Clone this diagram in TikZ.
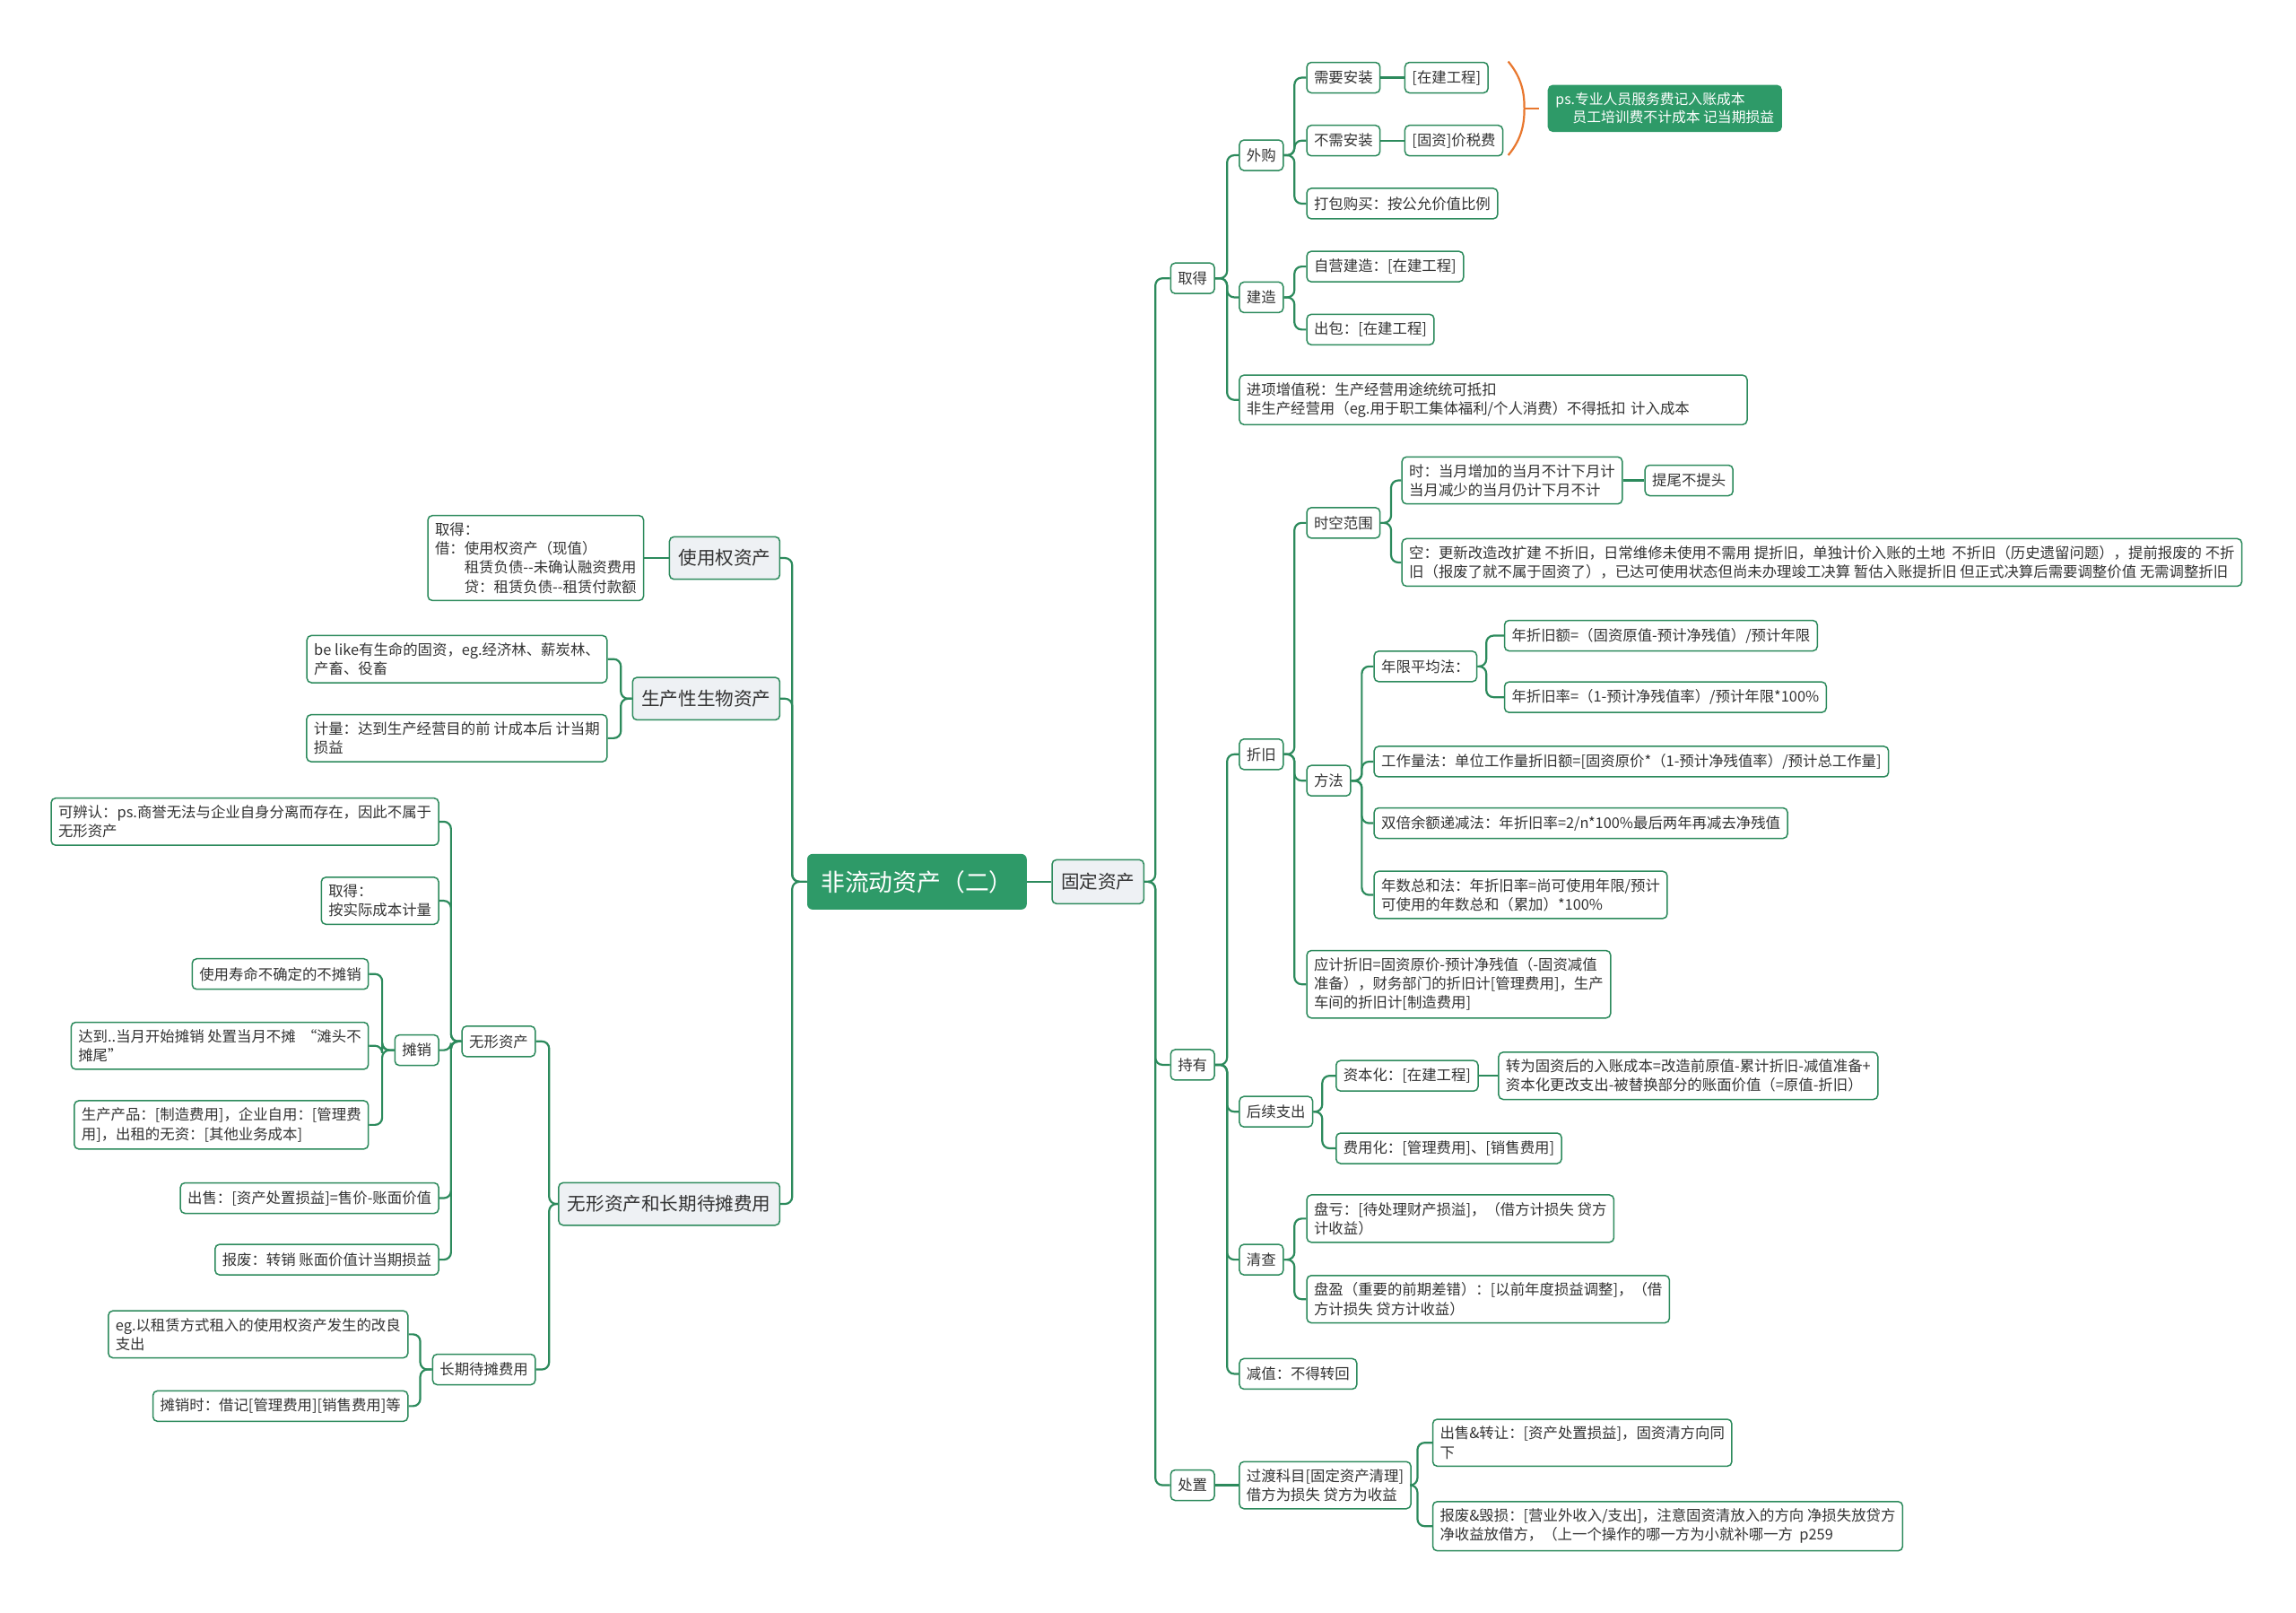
\documentclass[tikz,border=0pt]{standalone}
\usepackage{fontspec}
\setmainfont{Noto Sans CJK SC}
\definecolor{gline}{HTML}{2C8A5C}
\definecolor{rootfill}{HTML}{2E9A68}
\definecolor{lfill}{HTML}{EEF1F4}
\definecolor{txt}{HTML}{333333}
\definecolor{brk}{HTML}{E8772E}
\newcommand\conR[3]{\draw[conn] (#1.east) -- (#1.east -| #3) |- (#2.west);}
\newcommand\conL[3]{\draw[conn] (#1.west) -- (#1.west -| #3) |- (#2.east);}
\newcommand\conSR[2]{\draw[conn] (#1.east) -- (#1.east -| #2.west);}
\newcommand\conSL[2]{\draw[conn] (#1.west) -- (#1.west -| #2.east);}
\tikzset{
  nb/.style={draw=gline, line width=0.75pt, rounded corners=2.5pt, fill=white, text=txt,
    font=\fontsize{8.2}{10.6}\selectfont, inner xsep=4pt, inner ysep=4pt,
    minimum height=17pt, align=left},
  nbR/.style={nb, anchor=west},
  nbL/.style={nb, anchor=east},
  lvtwo/.style={nb, fill=lfill, font=\fontsize{10.3}{12}\selectfont, minimum height=23.7pt, inner xsep=5pt},
  conn/.style={draw=gline, line width=1.1pt, rounded corners=4pt},
}
\begin{document}
\begin{tikzpicture}[x=0.81633pt,y=-0.81633pt]
\useasboundingbox (0,0) rectangle (1568,1101);
\fill[white] (0,0) rectangle (1568,1101);

% spine coordinates
\coordinate (s0) at (789,0);
\coordinate (s1) at (838,0);
\coordinate (s2) at (884,0);
\coordinate (s3) at (950,0);
\coordinate (s4) at (930,0);
\coordinate (s5) at (1015,0);
\coordinate (s6) at (903,0);
\coordinate (s7) at (968,0);
\coordinate (t0) at (541,0);
\coordinate (t1) at (424,0);
\coordinate (t2) at (375,0);
\coordinate (t3) at (308,0);
\coordinate (t4) at (261,0);
\coordinate (t5) at (287,0);

% root and fixed assets
\node[draw=none, fill=rootfill, rounded corners=3pt, text=white, font=\fontsize{13.4}{16}\selectfont,
  minimum width=122.4pt, minimum height=31pt, anchor=west, inner sep=0pt] (root) at (551,602) {非流动资产（二）};
\node[lvtwo, anchor=west, minimum height=24.5pt] (gd) at (718,602) {固定资产};

% right side nodes
\node[nbR] (qd) at (799,190) {取得};
\node[nbR] (wg) at (846,106) {外购};
\node[nbR] (xyaz) at (892,53) {需要安装};
\node[nbR] (zjgc) at (959,53) {[在建工程]};
\node[nbR] (bxaz) at (892,96) {不需安装};
\node[nbR] (jsf) at (959,96) {[固资]价税费};
\node[nbR] (dbgm) at (892,139) {打包购买：按公允价值比例};
\node[nbR] (jz) at (846,203) {建造};
\node[nbR] (zyjz) at (892,182) {自营建造：[在建工程]};
\node[nbR] (cbao) at (892,225) {出包：[在建工程]};
\node[nbR, text width=275pt] (jxs) at (846,273) {进项增值税：生产经营用途统统可抵扣\\非生产经营用（eg.用于职工集体福利/个人消费）不得抵扣 计入成本};
\node[nbR, fill=rootfill, draw=rootfill, text=white, font=\fontsize{7.9}{10.2}\selectfont] (ps) at (1057,74) {ps.专业人员服务费记入账成本\\\hspace*{1.2em}员工培训费不计成本 记当期损益};

\node[nbR] (cy) at (799,727) {持有};
\node[nbR] (zj) at (846,515) {折旧};
\node[nbR] (skfw) at (892,357) {时空范围};
\node[nbR] (shi) at (957,328) {时：当月增加的当月不计下月计\\当月减少的当月仍计下月不计};
\node[nbR] (twbt) at (1123,328) {提尾不提头};
\node[nbR] (kong) at (957,384) {空：更新改造改扩建 不折旧，日常维修未使用不需用 提折旧，单独计价入账的土地\ \ 不折旧（历史遗留问题），提前报废的 不折\\旧（报废了就不属于固资了），已达可使用状态但尚未办理竣工决算 暂估入账提折旧 但正式决算后需要调整价值 无需调整折旧};
\node[nbR] (ff) at (892,533) {方法};
\node[nbR] (nxpj) at (938,455) {年限平均法：};
\node[nbR] (nzje) at (1027,434) {年折旧额=（固资原值-预计净残值）/预计年限};
\node[nbR] (nzjl) at (1027,476) {年折旧率=（1-预计净残值率）/预计年限*100\%};
\node[nbR] (gzl) at (938,520) {工作量法：单位工作量折旧额=[固资原价*（1-预计净残值率）/预计总工作量]};
\node[nbR] (sbye) at (938,562) {双倍余额递减法：年折旧率=2/n*100\%最后两年再减去净残值};
\node[nbR] (nszh) at (938,611) {年数总和法：年折旧率=尚可使用年限/预计\\可使用的年数总和（累加）*100\%};
\node[nbR] (yjzj) at (892,672) {应计折旧=固资原价-预计净残值（-固资减值\\准备），财务部门的折旧计[管理费用]，生产\\车间的折旧计[制造费用]};
\node[nbR] (hxzc) at (846,759) {后续支出};
\node[nbR] (zbh) at (912,734.5) {资本化：[在建工程]};
\node[nbR] (zwgz) at (1023,734.5) {转为固资后的入账成本=改造前原值-累计折旧-减值准备+\\资本化更改支出-被替换部分的账面价值（=原值-折旧）};
\node[nbR] (fyh) at (912,784) {费用化：[管理费用]、[销售费用]};
\node[nbR] (qc) at (846,860) {清查};
\node[nbR] (pk) at (892,832) {盘亏：[待处理财产损溢]，（借方计损失 贷方\\计收益）};
\node[nbR] (py) at (892,887) {盘盈（重要的前期差错）：[以前年度损益调整]，（借\\方计损失 贷方计收益）};
\node[nbR] (jzh) at (846,938) {减值：不得转回};
\node[nbR] (cz) at (799,1014) {处置};
\node[nbR] (gdkm) at (846,1014) {过渡科目[固定资产清理]\\借方为损失 贷方为收益};
\node[nbR] (cszr) at (978,985) {出售\&转让：[资产处置损益]，固资清方向同\\下};
\node[nbR] (bfhs) at (978,1042) {报废\&毁损：[营业外收入/支出]，注意固资清放入的方向 净损失放贷方\\净收益放借方，（上一个操作的哪一方为小就补哪一方\ \ p259};

% left side nodes
\node[lvtwo, anchor=east] (syq) at (533,381) {使用权资产};
\node[nbL] (syqqd) at (440,381) {取得：\\借：使用权资产（现值）\\\hspace*{2em}租赁负债-{}-未确认融资费用\\\hspace*{2em}贷：租赁负债-{}-租赁付款额};
\node[lvtwo, anchor=east] (scx) at (533,477) {生产性生物资产};
\node[nbL] (belike) at (415,450) {be like有生命的固资，eg.经济林、薪炭林、\\产畜、役畜};
\node[nbL] (jl) at (415,504) {计量：达到生产经营目的前 计成本后 计当期\\损益};
\node[lvtwo, anchor=east] (wxcq) at (533,822) {无形资产和长期待摊费用};
\node[nbL] (wx) at (366,711) {无形资产};
\node[nbL] (kbr) at (300,561) {可辨认：ps.商誉无法与企业自身分离而存在，因此不属于\\无形资产};
\node[nbL] (wxqd) at (300,615) {取得：\\按实际成本计量};
\node[nbL] (tx) at (300,717) {摊销};
\node[nbL] (sysm) at (252,665) {使用寿命不确定的不摊销};
\node[nbL] (dd) at (252,714) {达到..当月开始摊销 处置当月不摊\ \ “滩头不\\摊尾”};
\node[nbL] (sccp) at (252,768) {生产产品：[制造费用]，企业自用：[管理费\\用]，出租的无资：[其他业务成本]};
\node[nbL] (cs) at (300,818) {出售：[资产处置损益]=售价-账面价值};
\node[nbL] (bf) at (300,860) {报废：转销 账面价值计当期损益};
\node[nbL] (cqdt) at (366,935) {长期待摊费用};
\node[nbL] (eg) at (279,911) {eg.以租赁方式租入的使用权资产发生的改良\\支出};
\node[nbL] (txs) at (279,960) {摊销时：借记[管理费用][销售费用]等};

% connectors right
\conSR{root}{gd}
\conR{gd}{qd}{s0}
\conR{gd}{cy}{s0}
\conR{gd}{cz}{s0}
\conR{qd}{wg}{s1}
\conR{qd}{jz}{s1}
\conR{qd}{jxs}{s1}
\conR{wg}{xyaz}{s2}
\conR{wg}{bxaz}{s2}
\conR{wg}{dbgm}{s2}
\conSR{xyaz}{zjgc}
\conSR{bxaz}{jsf}
\conR{jz}{zyjz}{s2}
\conR{jz}{cbao}{s2}
\conR{cy}{zj}{s1}
\conR{cy}{hxzc}{s1}
\conR{cy}{qc}{s1}
\conR{cy}{jzh}{s1}
\conR{zj}{skfw}{s2}
\conR{zj}{ff}{s2}
\conR{zj}{yjzj}{s2}
\conR{skfw}{shi}{s3}
\conR{skfw}{kong}{s3}
\conSR{shi}{twbt}
\conR{ff}{nxpj}{s4}
\conR{ff}{gzl}{s4}
\conR{ff}{sbye}{s4}
\conR{ff}{nszh}{s4}
\conR{nxpj}{nzje}{s5}
\conR{nxpj}{nzjl}{s5}
\conR{hxzc}{zbh}{s6}
\conR{hxzc}{fyh}{s6}
\conSR{zbh}{zwgz}
\conR{qc}{pk}{s2}
\conR{qc}{py}{s2}
\conSR{cz}{gdkm}
\conR{gdkm}{cszr}{s7}
\conR{gdkm}{bfhs}{s7}

% connectors left
\conL{root}{syq}{t0}
\conL{root}{scx}{t0}
\conL{root}{wxcq}{t0}
\conSL{syq}{syqqd}
\conL{scx}{belike}{t1}
\conL{scx}{jl}{t1}
\conL{wxcq}{wx}{t2}
\conL{wxcq}{cqdt}{t2}
\conL{wx}{kbr}{t3}
\conL{wx}{wxqd}{t3}
\conL{wx}{tx}{t3}
\conL{wx}{cs}{t3}
\conL{wx}{bf}{t3}
\conL{tx}{sysm}{t4}
\conL{tx}{dd}{t4}
\conL{tx}{sccp}{t4}
\conL{cqdt}{eg}{t5}
\conL{cqdt}{txs}{t5}

% orange summary bracket
\coordinate (bt) at (1030,42);
\coordinate (bm) at (1041,74);
\coordinate (bb) at (1030,106);
\coordinate (be) at (1051,74);
\draw[brk, line width=1.1pt] (bt) .. controls (1040,54) and (1041,65) .. (bm) .. controls (1041,83) and (1040,94) .. (bb);
\draw[brk, line width=1.1pt] (bm) -- (be);
\end{tikzpicture}
\end{document}
